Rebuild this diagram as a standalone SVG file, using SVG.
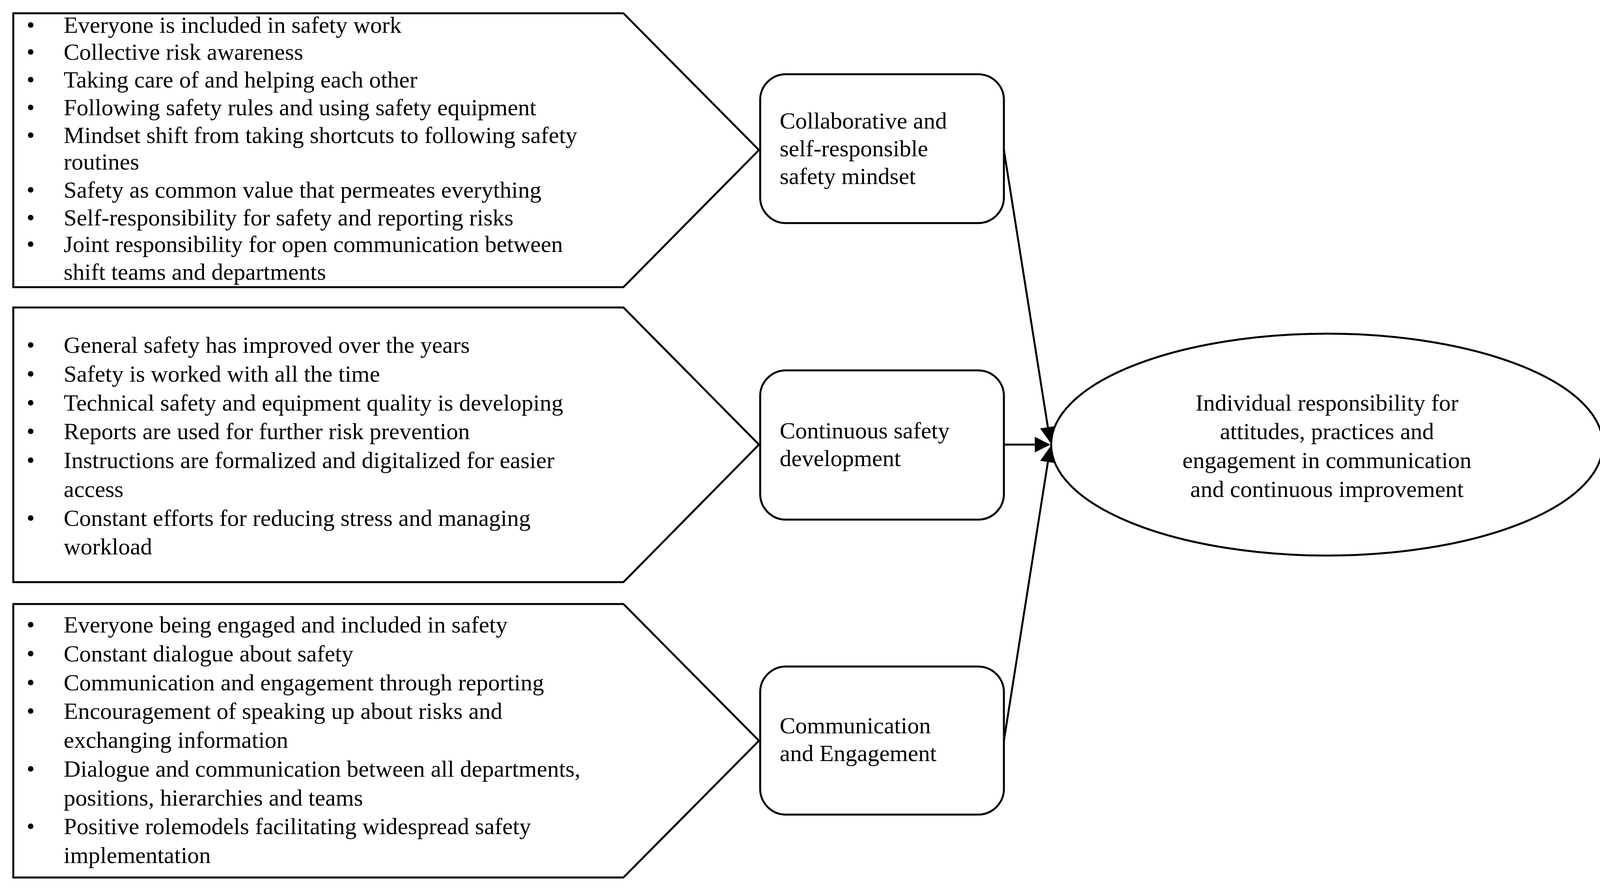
<svg xmlns="http://www.w3.org/2000/svg" width="4128" height="2278" viewBox="0 0 4128 2278">
<defs>
<style>
text{font-family:"Liberation Serif","DejaVu Serif",serif;font-size:60px;fill:#000}
.s{fill:#fff;stroke:#000;stroke-width:5}
.c{stroke:#000;stroke-width:5;fill:none}
.m{text-anchor:middle}
</style>
<marker id="a" markerWidth="8" markerHeight="8" refX="7" refY="4" orient="auto" markerUnits="strokeWidth"><path d="M0,0L8,4L0,8z" fill="#000"/></marker>
</defs>
<rect width="4128" height="2278" fill="#fff"/>
<g id="p1"><path class="s" d="M34,34H1596L1943,384L1596,735H34Z"/>
<g font-size="60">
<text x="68" y="84">•</text><text x="163" y="84">Everyone is included in safety work</text>
<text x="68" y="153">•</text><text x="163" y="153">Collective risk awareness</text>
<text x="68" y="224">•</text><text x="163" y="224">Taking care of and helping each other</text>
<text x="68" y="295">•</text><text x="163" y="295">Following safety rules and using safety equipment</text>
<text x="68" y="366">•</text><text x="163" y="366">Mindset shift from taking shortcuts to following  safety</text>
<text x="163" y="434">routines</text>
<text x="68" y="506">•</text><text x="163" y="506">Safety as common value that permeates everything</text>
<text x="68" y="577">•</text><text x="163" y="577">Self-responsibility  for safety and reporting risks</text>
<text x="68" y="645">•</text><text x="163" y="645">Joint responsibility for open communication between</text>
<text x="163" y="716">shift teams and departments</text></g></g>
<g id="p2"><path class="s" d="M34,787H1596L1943,1138L1596,1490H34Z"/>
<text x="68" y="903">•</text><text x="163" y="903">General safety has improved over the years</text>
<text x="68" y="977">•</text><text x="163" y="977">Safety is worked with all the time</text>
<text x="68" y="1051">•</text><text x="163" y="1051">Technical safety and equipment quality is developing</text>
<text x="68" y="1124">•</text><text x="163" y="1124">Reports are used for further risk prevention</text>
<text x="68" y="1198">•</text><text x="163" y="1198">Instructions are formalized and digitalized for easier</text>
<text x="163" y="1272">access</text>
<text x="68" y="1346">•</text><text x="163" y="1346">Constant efforts for reducing stress and managing</text>
<text x="163" y="1419">workload</text></g>
<g id="p3"><path class="s" d="M34,1546H1596L1943,1896L1596,2246H34Z"/>
<text x="68" y="1619">•</text><text x="163" y="1619">Everyone being engaged and included in safety</text>
<text x="68" y="1693">•</text><text x="163" y="1693">Constant dialogue about safety</text>
<text x="68" y="1767">•</text><text x="163" y="1767">Communication and engagement through reporting</text>
<text x="68" y="1840">•</text><text x="163" y="1840">Encouragement of speaking up about risks and</text>
<text x="163" y="1914">exchanging information</text>
<text x="68" y="1988">•</text><text x="163" y="1988">Dialogue and communication between all departments,</text>
<text x="163" y="2062">positions, hierarchies and teams</text>
<text x="68" y="2135">•</text><text x="163" y="2135">Positive rolemodels facilitating widespread safety</text>
<text x="163" y="2209">implementation</text></g>
<g id="b1"><rect class="s" x="1946" y="190" width="624" height="381" rx="66"/>
<text x="1996" y="329">Collaborative and</text><text x="1996" y="400">self-responsible</text><text x="1996" y="471">safety mindset</text></g>
<g id="b2"><rect class="s" x="1946" y="948" width="624" height="382" rx="66"/>
<text x="1996" y="1122">Continuous safety</text><text x="1996" y="1193">development</text></g>
<g id="b3"><rect class="s" x="1946" y="1706" width="624" height="379" rx="66"/>
<text x="1996" y="1877">Communication</text><text x="1996" y="1948">and Engagement</text></g>
<g id="e"><ellipse class="s" cx="3397" cy="1138" rx="706" ry="284"/>
<text class="m" x="3397" y="1051">Individual responsibility for</text>
<text class="m" x="3397" y="1124">attitudes, practices and</text>
<text class="m" x="3397" y="1198">engagement in communication</text>
<text class="m" x="3397" y="1272">and continuous improvement</text></g>
<g id="connectors">
<path class="c" d="M2570,384L2688,1128" marker-end="url(#a)"/>
<path class="c" d="M2570,1138H2684" marker-end="url(#a)"/>
<path class="c" d="M2570,1896L2688,1148" marker-end="url(#a)"/>
</g>
</svg>
